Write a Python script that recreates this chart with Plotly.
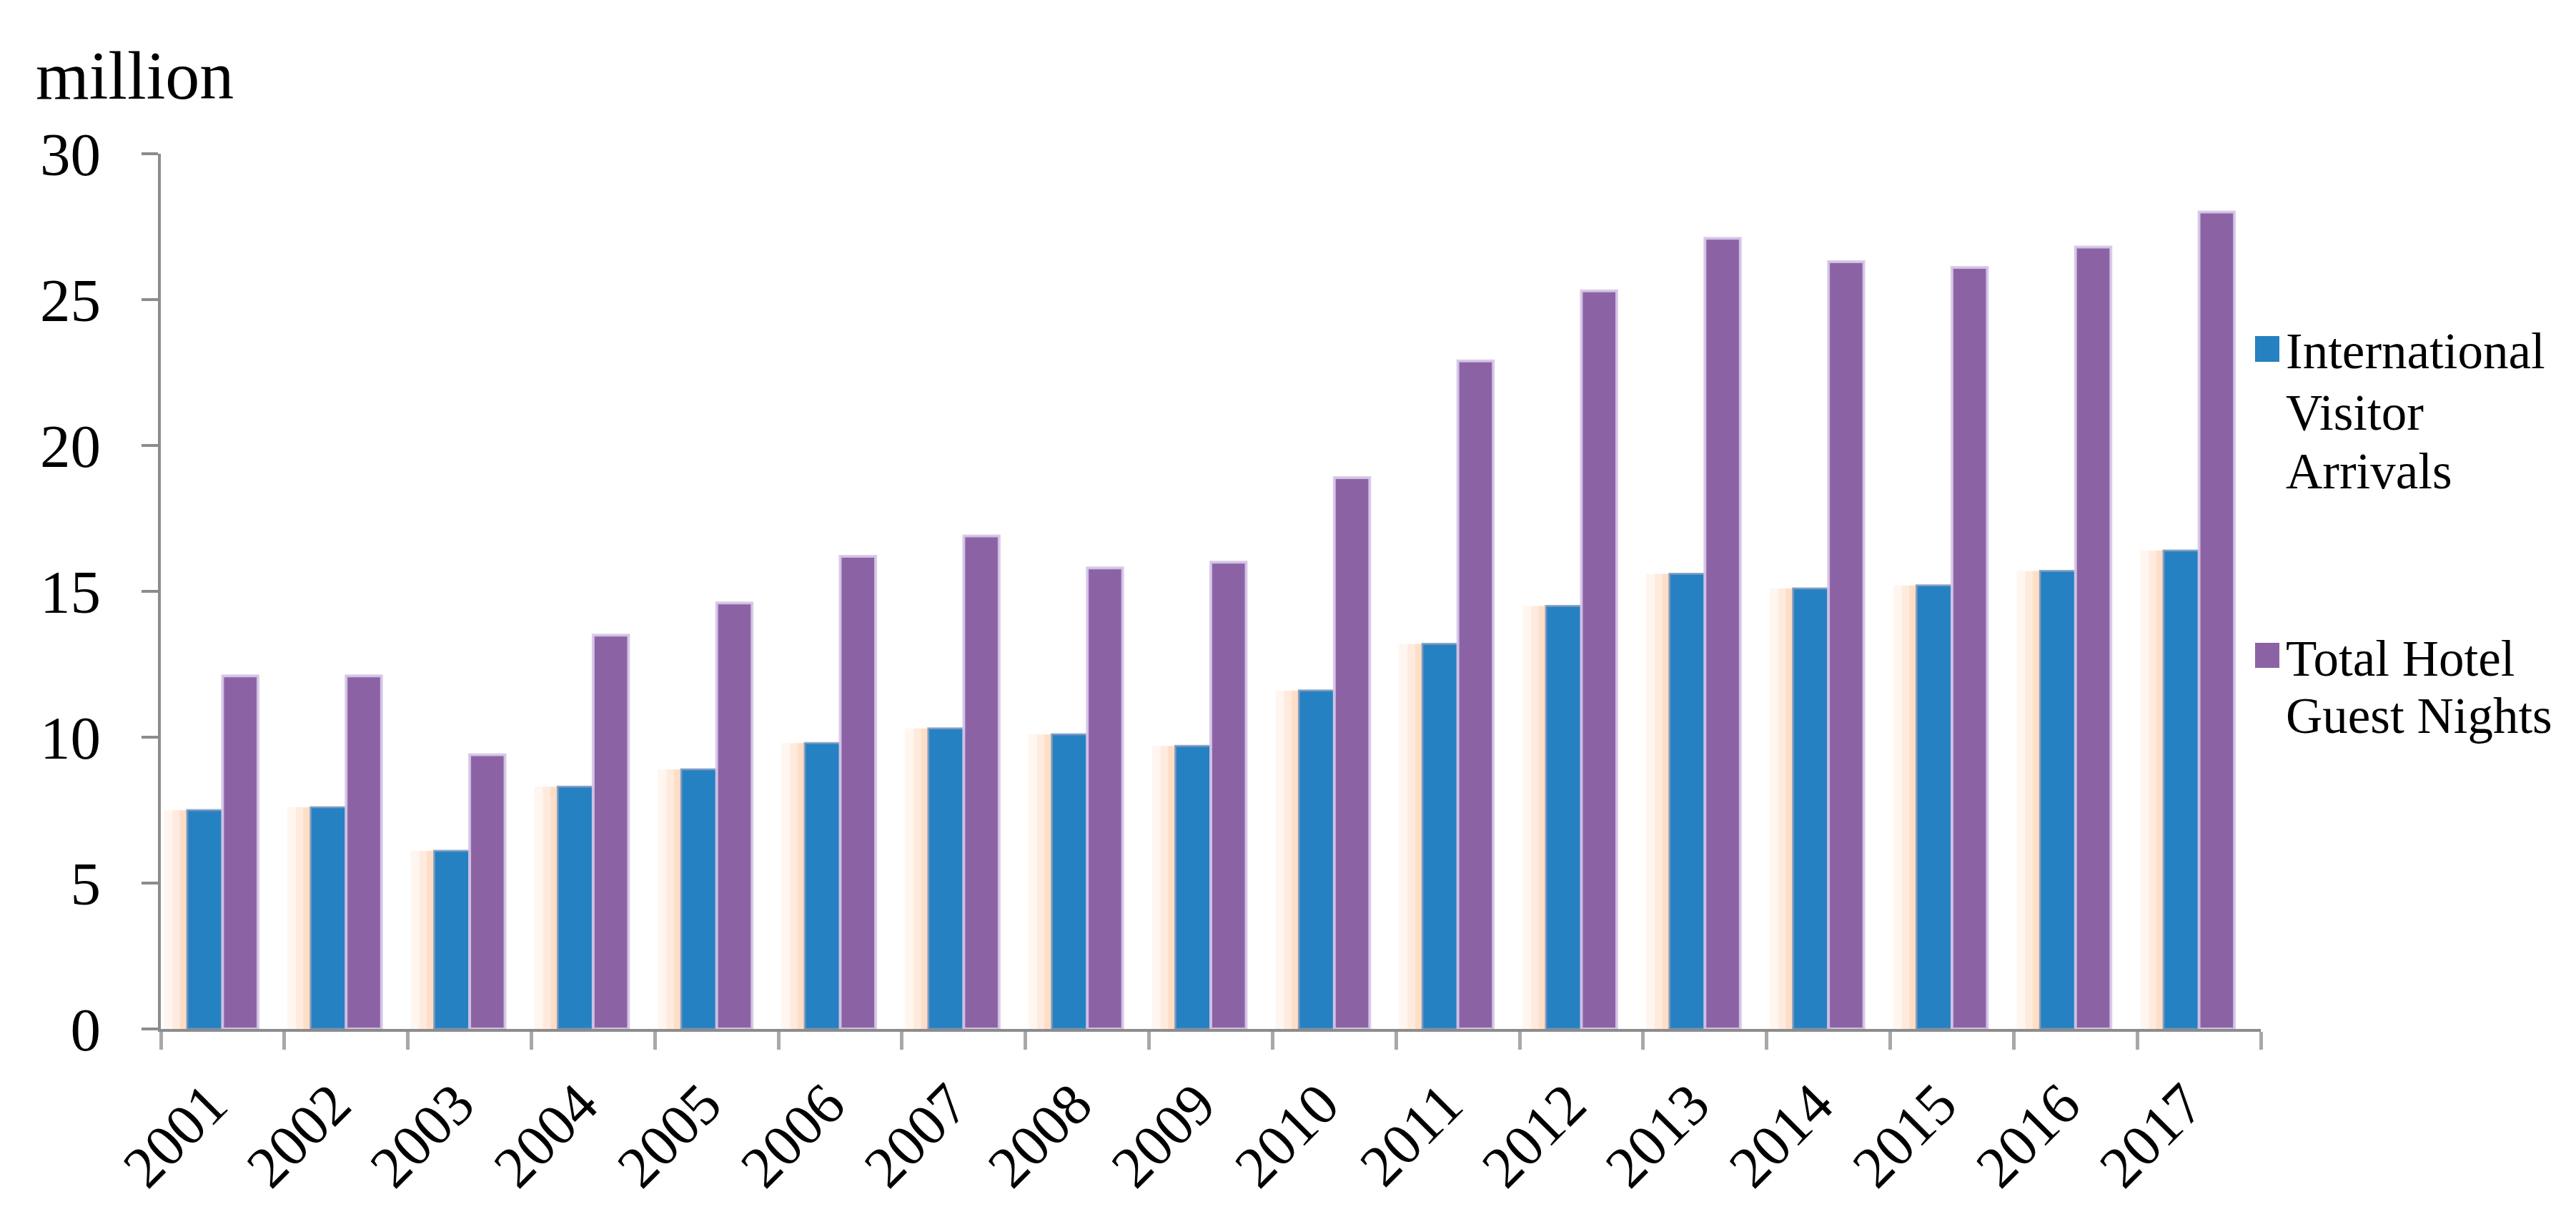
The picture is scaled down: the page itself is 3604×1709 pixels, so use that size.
import plotly.graph_objects as go

years = ["2001", "2002", "2003", "2004", "2005", "2006", "2007", "2008", "2009",
         "2010", "2011", "2012", "2013", "2014", "2015", "2016", "2017"]
arrivals = [7.5, 7.6, 6.1, 8.3, 8.9, 9.8, 10.3, 10.1, 9.7,
            11.6, 13.2, 14.5, 15.6, 15.1, 15.2, 15.7, 16.4]
guest_nights = [12.1, 12.1, 9.4, 13.5, 14.6, 16.2, 16.9, 15.8, 16.0,
                18.9, 22.9, 25.3, 27.1, 26.3, 26.1, 26.8, 28.0]
series_names = ["International Visitor Arrivals", "Total Hotel Guest Nights"]
legend_lines = [["International", "Visitor", "Arrivals"], ["Total Hotel", "Guest Nights"]]
colors = ["#2581C1", "#8B63A5"]

FONT = "Liberation Serif, Times New Roman, serif"
BARGAP = 0.427
half = (1 - BARGAP) / 2  # width of one bar in category units

W, H = 3604, 1709
ML, MR, MT, MB = 217, 449, 207, 278
PW, PH = W - ML - MR, H - MT - MB


def px2x(px):
    return (px - ML) / PW


def py2y(py):
    return (H - MB - py) / PH


fig = go.Figure()

# soft orange glow to the left of the blue bars
for w, a in [(0.19, 0.10), (0.12, 0.14), (0.06, 0.20)]:
    fig.add_trace(go.Bar(x=years, y=arrivals, offsetgroup="a", offset=-half - w, width=w,
                         marker=dict(color=f"rgba(255,170,110,{a})", line=dict(width=0)),
                         showlegend=False, hoverinfo="skip"))

fig.add_trace(go.Bar(x=years, y=arrivals, name=series_names[0], offsetgroup="a",
                     showlegend=False,
                     marker=dict(color=colors[0], line=dict(color="rgba(120,150,190,0.8)", width=3))))
fig.add_trace(go.Bar(x=years, y=guest_nights, name=series_names[1], offsetgroup="b",
                     showlegend=False,
                     marker=dict(color=colors[1], line=dict(color="rgba(215,200,232,0.9)", width=4))))

# legend drawn by hand: square swatches + text lines
LEG_FONT = 71
sq_x0, sq_x1 = 3147, 3181
text_x = 3188
items = [  # (square top, square bottom, baselines of lines)
    (462, 498, [504, 590, 672]),
    (891, 926, [934, 1014]),
]
shapes = []
annotations = []
for (t, b, baselines), lines, col in zip(items, legend_lines, colors):
    shapes.append(dict(type="rect", xref="paper", yref="paper",
                       x0=px2x(sq_x0), x1=px2x(sq_x1), y0=py2y(b), y1=py2y(t),
                       fillcolor=col, line=dict(width=0)))
    for line, bl in zip(lines, baselines):
        annotations.append(dict(text=line, xref="paper", yref="paper",
                                x=px2x(text_x), y=py2y(bl - 0.30 * LEG_FONT),
                                xanchor="left", yanchor="middle", showarrow=False,
                                font=dict(family=FONT, size=LEG_FONT, color="black")))

annotations.append(dict(text="million", xref="paper", yref="paper", x=px2x(40), y=py2y(126 - 0.30 * 96),
                        xanchor="left", yanchor="middle", showarrow=False,
                        font=dict(family=FONT, size=96, color="black")))

fig.update_layout(
    width=W, height=H, autosize=False,
    paper_bgcolor="white", plot_bgcolor="white",
    margin=dict(l=ML, r=MR, t=MT, b=MB),
    barmode="group", bargap=BARGAP, bargroupgap=0,
    font=dict(family=FONT, size=80, color="black"),
    showlegend=False,
    xaxis=dict(showline=True, linecolor="#8c8c8c", linewidth=4,
               ticks="outside", tickson="boundaries", ticklen=25, tickwidth=5,
               tickcolor="#a8a8a8", tickangle=-45, showgrid=False,
               ticklabelstandoff=20, ticklabelshift=-18,
               tickfont=dict(family=FONT, size=82, color="black")),
    yaxis=dict(range=[0, 30], dtick=5, showline=True, linecolor="#8c8c8c", linewidth=4,
               ticks="outside", ticklen=23, tickwidth=4, tickcolor="#8c8c8c",
               showgrid=False, zeroline=False, ticklabelstandoff=40,
               tickfont=dict(family=FONT, size=85, color="black")),
    shapes=shapes,
    annotations=annotations,
)

fig.write_html("out.html")
